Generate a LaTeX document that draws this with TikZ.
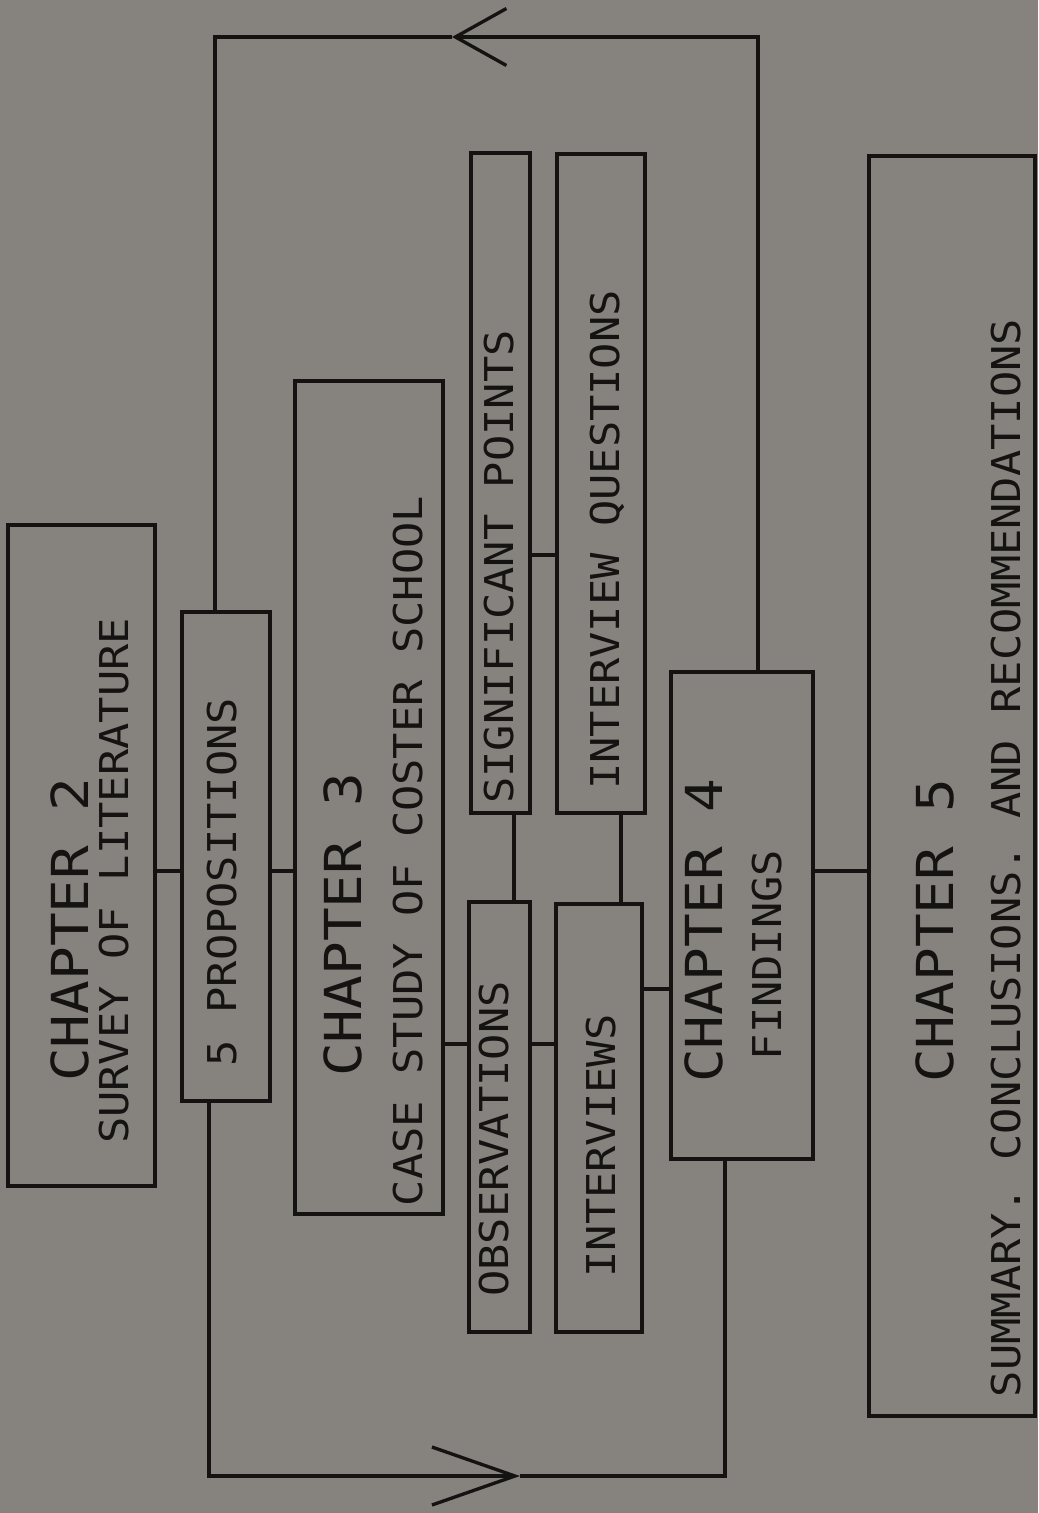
\documentclass[tikz,border=0pt]{standalone}
\usepackage{fontspec}
\newfontfamily\plotter[FakeStretch=1.1]{DejaVu Sans Mono}
\usetikzlibrary{positioning, fit, arrows.meta}
\definecolor{ink}{HTML}{141312}
\definecolor{paper}{HTML}{86827E}

\begin{document}
\begin{tikzpicture}[x=0.02cm, y=-0.02cm, line width=1.9pt, ink,
  frame/.style={draw=ink, inner sep=0pt, line width=1.9pt},
  head/.style={rotate=90, font=\plotter\fontsize{29pt}{29pt}\selectfont, inner sep=0pt, text depth=0pt, text=ink},
  tag/.style={rotate=90, font=\plotter\fontsize{22.6pt}{22.6pt}\selectfont, inner sep=0pt, text depth=0pt, text=ink},
  backtip/.style={-{Straight Barb[length=10.2mm, width=11.4mm]}},
  fwdtip/.style={-{Straight Barb[length=16.6mm, width=11.6mm]}}
]
  \fill[paper] (0,0) rectangle (1038,1513);

  % boxes
  \foreach \name/\xa/\ya/\xb/\yb in {ch2/8/525/155/1186, props/182/612/270/1101,
      ch3/295/381/443/1214, sig/471/153/530/813, quest/557/154/645/813,
      obs/469/902/530/1332, inter/556/904/642/1332, ch4/671/672/813/1159,
      ch5/869/156/1035/1416}
    \node[frame, fit={(\xa,\ya) (\xb,\yb)}] (\name) {};

  \node[head] (ch2t) at (70,930) {CHAPTER 2};
  \node[tag] (ch2s) at (114,881) {SURVEY OF LITERATURE};
  \node[tag] (propst) at (222,882) {5 PROPOSITIONS};
  \node[head] (ch3t) at (343,925) {CHAPTER 3};
  \node[tag] (ch3s) at (408,851) {CASE STUDY OF COSTER SCHOOL};
  \node[tag] (sigt) at (499,567) {SIGNIFICANT POINTS};
  \node[tag] (questt) at (605,540) {INTERVIEW QUESTIONS};
  \node[tag] (obst) at (494,1139) {OBSERVATIONS};
  \node[tag] (intert) at (601,1146) {INTERVIEWS};
  \node[head] (ch4t) at (704,931) {CHAPTER 4};
  \node[tag] (ch4s) at (767,955) {FINDINGS};
  \node[head] (ch5t) at (935,931) {CHAPTER 5};
  \node[tag] (ch5s) at (1006,858) {SUMMARY. CONCLUSIONS. AND RECOMMENDATIONS};

  % links
  \coordinate (row0) at (0,555);
  \coordinate (row1) at (0,871);
  \coordinate (row2) at (0,1044);
  \coordinate (row3) at (0,989);
  \coordinate (colA) at (514,0);
  \coordinate (colB) at (621,0);
  \draw (ch2.east |- row1) -- (props.west |- row1);
  \draw (props.east |- row1) -- (ch3.west |- row1);
  \draw (ch4.east |- row1) -- (ch5.west |- row1);
  \draw (ch3.east |- row2) -- (obs.west |- row2);
  \draw (obs.east |- row2) -- (inter.west |- row2);
  \draw (inter.east |- row3) -- (ch4.west |- row3);
  \draw (sig.east |- row0) -- (quest.west |- row0);
  \draw (sig.south -| colA) -- (obs.north -| colA);
  \draw (quest.south -| colB) -- (inter.north -| colB);

  % feedback loop
  \coordinate (ttip) at (452,37);
  \coordinate (btip) at (520,1476);
  \draw[backtip] (ch4.north -| 758,0) |- (ttip);
  \draw (ttip) -| (props.north -| 215,0);
  \draw[fwdtip] (props.south -| 209,0) |- (btip);
  \draw (btip) -| (ch4.south -| 725,0);
\end{tikzpicture}
\end{document}
